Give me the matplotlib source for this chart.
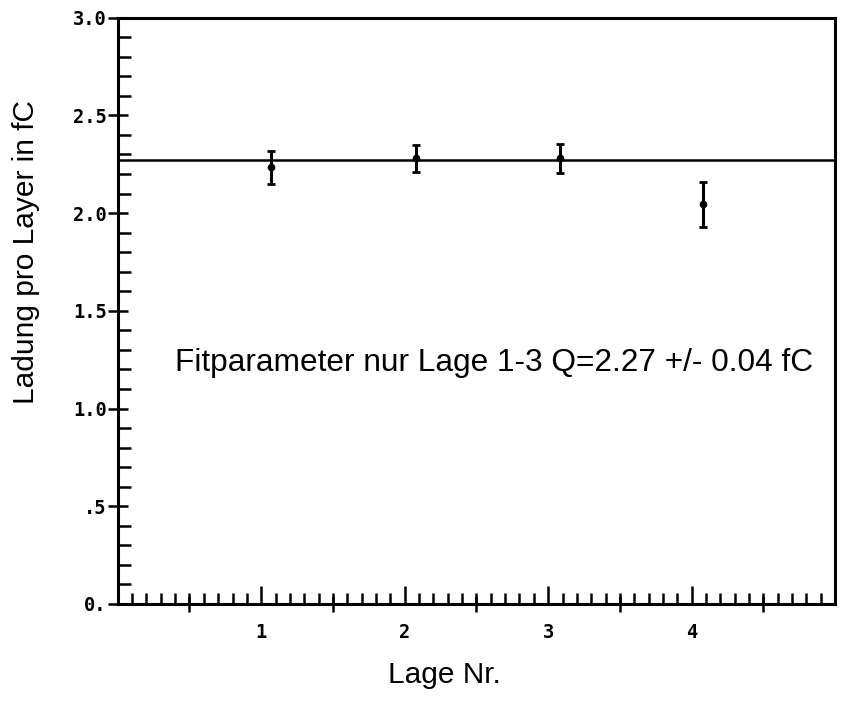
import matplotlib.pyplot as plt
import numpy as np

lage = [1.07, 2.08, 3.08, 4.08]
ladung = [2.235, 2.28, 2.28, 2.045]
fehler = [0.085, 0.07, 0.075, 0.115]
fit_q = 2.27

y_ticks = [0.0, 0.5, 1.0, 1.5, 2.0, 2.5, 3.0]
y_labels = ["0.", ".5", "1.0", "1.5", "2.0", "2.5", "3.0"]
x_ticks = [1, 2, 3, 4]
x_labels = ["1", "2", "3", "4"]
x_half = [0.5, 1.5, 2.5, 3.5, 4.5]

fig = plt.figure(figsize=(8.41, 7.08), dpi=100)
ax = fig.add_axes([0.140, 0.147, 0.853, 0.828])

ax.set_xlim(0, 5)
ax.set_ylim(0, 3.0)

# fit line and data points
ax.axhline(fit_q, color='black', lw=1.8)
ax.errorbar(lage, ladung, yerr=fehler, fmt='o', color='black', ms=4.5,
            elinewidth=2.2, capsize=3, capthick=2.0)

for s in ax.spines.values():
    s.set_linewidth(2.2)

tick_font = dict(family='DejaVu Sans Mono', weight='bold', size=13.5)

# y axis ticks
ax.set_yticks(y_ticks)
ax.set_yticklabels(y_labels, **tick_font)
ax.set_yticks(np.arange(0, 3.01, 0.1), minor=True)
ax.tick_params(axis='y', which='major', direction='inout', length=14, width=1.8,
               pad=1, right=False)
ax.tick_params(axis='y', which='minor', direction='in', length=9, width=1.8,
               right=False)

# x axis ticks
ax.set_xticks(x_ticks)
ax.set_xticklabels(x_labels, **tick_font)
ax.set_xticks(np.arange(0, 5.01, 0.1), minor=True)
ax.tick_params(axis='x', which='major', direction='in', length=13, width=1.8,
               pad=14, top=False)
ax.tick_params(axis='x', which='minor', direction='in', length=8, width=1.8,
               top=False)

# half ticks crossing the bottom axis
sec = ax.secondary_xaxis('bottom')
sec.set_xticks(x_half)
sec.tick_params(direction='inout', length=11, width=1.8, labelbottom=False)
sec.spines['bottom'].set_visible(False)

ax.set_ylabel("Ladung pro Layer in fC", family='Liberation Sans', fontsize=21.5)
ax.yaxis.set_label_coords(-0.108, 0.6)
ax.set_xlabel("Lage Nr.", family='Liberation Sans', fontsize=21.5)
ax.xaxis.set_label_coords(0.456, -0.097)

ax.text(0.40, 1.234, "Fitparameter nur Lage 1-3 Q=2.27 +/- 0.04 fC",
        family='Liberation Sans', fontsize=22.8, ha='left', va='center')

fig.savefig("out.png", dpi=100)
